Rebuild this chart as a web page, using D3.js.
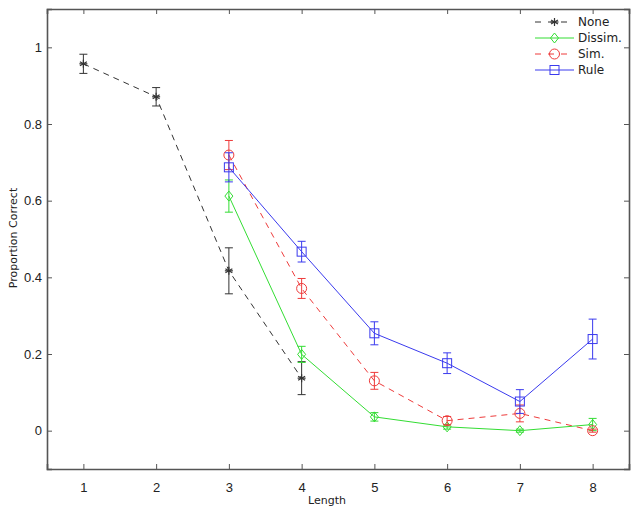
<!DOCTYPE html>
<html>
<head>
<meta charset="utf-8">
<script src="https://cdn.jsdelivr.net/npm/d3@7"></script>
<style>
  body { margin: 0; background: #fff; }
  text { font-family: "DejaVu Sans", sans-serif; }
</style>
</head>
<body>
<script>
// chart size
var width = 637;
var height = 511;
var margin = {top: 9, right: 8, bottom: 42, left: 47};

// data
var xTicks = [1, 2, 3, 4, 5, 6, 7, 8];
var yTicks = [0, 0.2, 0.4, 0.6, 0.8, 1];
var seriesNames = ["None", "Dissim.", "Sim.", "Rule"];

var noneX = [1, 2, 3, 4];
var noneY = [0.957, 0.871, 0.417, 0.137];
var noneErr = [0.025, 0.024, 0.06, 0.043];

var dissimX = [3, 4, 5, 6, 7, 8];
var dissimY = [0.612, 0.199, 0.036, 0.010, 0.000, 0.016];
var dissimErr = [0.042, 0.021, 0.011, 0.006, 0.004, 0.016];

var simX = [3, 4, 5, 6, 7, 8];
var simY = [0.719, 0.371, 0.130, 0.026, 0.045, 0.000];
var simErr = [0.038, 0.026, 0.022, 0.011, 0.022, 0.004];

var ruleX = [3, 4, 5, 6, 7, 8];
var ruleY = [0.687, 0.467, 0.254, 0.176, 0.076, 0.239];
var ruleErr = [0.038, 0.027, 0.030, 0.027, 0.031, 0.052];

function zip(xs, ys, es) {
  return xs.map(function(x, i) { return {x: x, y: ys[i], e: es[i]}; });
}

var series = [
  {name: seriesNames[0], color: "#333", dash: "6,5", marker: "star", pts: zip(noneX, noneY, noneErr)},
  {name: seriesNames[1], color: "#33dd33", dash: null, marker: "diamond", pts: zip(dissimX, dissimY, dissimErr)},
  {name: seriesNames[2], color: "#ee3b3b", dash: "6,5", marker: "circle", pts: zip(simX, simY, simErr)},
  {name: seriesNames[3], color: "#3a3aee", dash: null, marker: "square", pts: zip(ruleX, ruleY, ruleErr)}
];

var svg = d3.select("body").append("svg")
    .attr("width", width)
    .attr("height", height);

var x = d3.scaleLinear().domain([0.5, 8.5]).range([margin.left, width - margin.right]);
var y = d3.scaleLinear().domain([-0.1, 1.1]).range([height - margin.bottom, margin.top]);

var axisColor = "#555";

// ticks on all four sides, pointing in
var tl = 5;
svg.append("g")
    .attr("transform", "translate(0," + (height - margin.bottom) + ")")
    .call(d3.axisBottom(x).tickValues(xTicks).tickSize(-tl).tickPadding(14).tickFormat(d3.format("d")))
    .call(styleAxis);
svg.append("g")
    .attr("transform", "translate(0," + margin.top + ")")
    .call(d3.axisTop(x).tickValues(xTicks).tickSize(-tl).tickFormat(""))
    .call(styleAxis);
svg.append("g")
    .attr("transform", "translate(" + margin.left + ",0)")
    .call(d3.axisLeft(y).tickValues(yTicks).tickSize(-tl).tickPadding(5).tickFormat(d3.format("~g")))
    .call(styleAxis);
svg.append("g")
    .attr("transform", "translate(" + (width - margin.right) + ",0)")
    .call(d3.axisRight(y).tickValues(yTicks).tickSize(-tl).tickFormat(""))
    .call(styleAxis);

function styleAxis(g) {
  g.select(".domain").attr("stroke", axisColor).attr("stroke-width", 1.6);
  g.selectAll(".tick line").attr("stroke", axisColor).attr("stroke-width", 1);
  g.selectAll(".tick text")
    .attr("fill", "#222")
    .style("font-family", "Liberation Sans, Arial, sans-serif")
    .style("font-size", "13px");
}

// axis labels
svg.append("text")
    .attr("x", 327)
    .attr("y", 504)
    .attr("text-anchor", "middle")
    .attr("fill", "#222")
    .style("font-size", "11px")
    .text("Length");

svg.append("text")
    .attr("transform", "translate(17,238) rotate(-90)")
    .attr("text-anchor", "middle")
    .attr("fill", "#222")
    .style("font-size", "11px")
    .text("Proportion Correct");

function drawMarker(g, type, color) {
  if (type === "star") {
    var r = 4;
    [0, 60, 120].forEach(function(a) {
      g.append("line")
        .attr("x1", 0).attr("y1", -r).attr("x2", 0).attr("y2", r)
        .attr("transform", "rotate(" + a + ")")
        .attr("stroke", color).attr("stroke-width", 1.2);
    });
    g.append("line").attr("x1", -r).attr("x2", r).attr("y1", 0).attr("y2", 0)
      .attr("stroke", color).attr("stroke-width", 1.2);
  } else if (type === "diamond") {
    g.append("path").attr("d", "M0,-5L4,0L0,5L-4,0Z")
      .attr("fill", "none").attr("stroke", color).attr("stroke-width", 1);
  } else if (type === "circle") {
    g.append("circle").attr("r", 5)
      .attr("fill", "none").attr("stroke", color).attr("stroke-width", 1);
  } else if (type === "square") {
    g.append("rect").attr("x", -4.5).attr("y", -4.5).attr("width", 9).attr("height", 9)
      .attr("fill", "none").attr("stroke", color).attr("stroke-width", 1);
  }
}

var line = d3.line().x(function(d) { return x(d.x); }).y(function(d) { return y(d.y); });

series.forEach(function(s) {
  var g = svg.append("g");
  g.append("path")
    .datum(s.pts)
    .attr("d", line)
    .attr("fill", "none")
    .attr("stroke", s.color)
    .attr("stroke-width", 1)
    .attr("stroke-dasharray", s.dash);

  // error bars
  var eb = g.selectAll(".eb").data(s.pts).enter().append("g");
  eb.append("line")
    .attr("x1", function(d) { return x(d.x); })
    .attr("x2", function(d) { return x(d.x); })
    .attr("y1", function(d) { return y(d.y - d.e); })
    .attr("y2", function(d) { return y(d.y + d.e); })
    .attr("stroke", s.color).attr("stroke-width", 1);
  [-1, 1].forEach(function(sign) {
    eb.append("line")
      .attr("x1", function(d) { return x(d.x) - 4; })
      .attr("x2", function(d) { return x(d.x) + 4; })
      .attr("y1", function(d) { return y(d.y + sign * d.e); })
      .attr("y2", function(d) { return y(d.y + sign * d.e); })
      .attr("stroke", s.color).attr("stroke-width", 1);
  });

  s.pts.forEach(function(d) {
    var m = g.append("g").attr("transform", "translate(" + x(d.x) + "," + y(d.y) + ")");
    drawMarker(m, s.marker, s.color);
  });
});

// legend
var legend = svg.append("g");
series.forEach(function(s, i) {
  var ly = 22 + i * 16;
  var row = legend.append("g").attr("transform", "translate(0," + ly + ")");
  row.append("line")
    .attr("x1", 535).attr("x2", 574).attr("y1", 0).attr("y2", 0)
    .attr("stroke", s.color).attr("stroke-width", 1)
    .attr("stroke-dasharray", s.dash ? "6,7" : null);
  var m = row.append("g").attr("transform", "translate(554.5,0)");
  drawMarker(m, s.marker, s.color);
  row.append("text")
    .attr("x", 578).attr("y", 0).attr("dy", "0.35em")
    .attr("fill", "#222")
    .style("font-size", "12px")
    .text(s.name);
});
</script>
</body>
</html>
